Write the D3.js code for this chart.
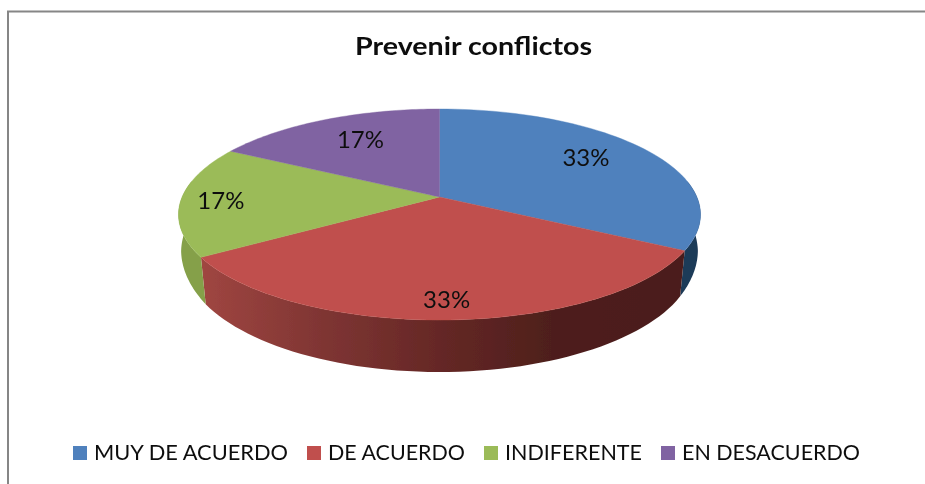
<!DOCTYPE html>
<html><head><meta charset="utf-8">
<script src="https://cdn.jsdelivr.net/npm/d3@7/dist/d3.min.js"></script>
<style>html,body{margin:0;padding:0;background:#fff;overflow:hidden}svg{display:block}text{font-family:Lato,"Open Sans",sans-serif;fill:#111}</style>
</head><body><svg id="c" width="925" height="484"></svg>
<script>
const chartTitle = "Prevenir conflictos";
const categories = ["MUY DE ACUERDO", "DE ACUERDO", "INDIFERENTE", "EN DESACUERDO"];
const values = [33, 33, 17, 17];
const percentLabels = ["33%", "33%", "17%", "17%"];
const topColors = ["#4f81bd", "#c0504d", "#9bbb59", "#8064a2"];
const sideColors = ["#1f3a58", "url(#redSide)", "#85a04a", "#6a5388"];
const legendTextWidths = [194, 137, 137, 178];

const svg = d3.select("#c");
const defs = svg.append("defs");
const grad = defs.append("linearGradient").attr("id", "redSide")
  .attr("gradientUnits", "userSpaceOnUse").attr("x1", 200).attr("x2", 690).attr("y1", 0).attr("y2", 0);
[[0, "#a04641"], [0.25, "#7f3533"], [0.5, "#642725"], [0.72, "#4e1f1c"], [1, "#4b1e1b"]]
  .forEach(s => grad.append("stop").attr("offset", s[0]).attr("stop-color", s[1]));
defs.append("filter").attr("id", "soft").append("feGaussianBlur").attr("stdDeviation", 0.45);

// frame
svg.append("path").attr("d", "M8,484V11.5H925").attr("fill", "none").attr("stroke", "#868686").attr("stroke-width", 2);

const root = svg.append("g").attr("filter", "url(#soft)");

// perspective projection of the disc
const cx = 439.5, cy = 197, k = 0.166, A = 257.4, B = 102.6;
function project(theta, r = 1) {
  const w = 1 + k * r * Math.cos(theta);
  return [cx + A * r * Math.sin(theta) / w, cy - B * r * Math.cos(theta) / w];
}
const depthAt = d3.scaleLinear().domain([213, 258, 320]).range([38, 47, 52]);
const shrinkAt = d3.scaleLinear().domain([213, 258]).range([0.99, 0.98]).clamp(true);
function lower(p) {
  return [cx + (p[0] - cx) * shrinkAt(p[1]), p[1] + depthAt(p[1])];
}
const line = d3.line();
const arcPts = (a, b) => d3.range(0, 61).map(i => project(a + (b - a) * i / 60));

const pie = d3.pie().sort(null)(values);
const colorScale = d3.scaleOrdinal().domain(categories).range(topColors);
const sideScale = d3.scaleOrdinal().domain(categories).range(sideColors);

// walls (the top face is painted over whatever part is hidden)
const nearFrom = Math.PI * 0.45, nearTo = Math.PI * 1.55;
root.selectAll("path.wall").data(pie).join("path").attr("class", "wall")
  .attr("d", d => {
    const a = Math.max(d.startAngle, nearFrom), b = Math.min(d.endAngle, nearTo);
    if (b <= a) return null;
    const t = arcPts(a, b);
    return line(t.concat(t.slice().reverse().map(lower))) + "Z";
  })
  .attr("fill", (d, i) => sideScale(categories[i]));

// top face
root.selectAll("path.top").data(pie).join("path").attr("class", "top")
  .attr("d", d => line([[cx, cy]].concat(arcPts(d.startAngle, d.endAngle))) + "Z")
  .attr("fill", (d, i) => colorScale(categories[i]))
  .attr("stroke", (d, i) => colorScale(categories[i])).attr("stroke-width", 0.4);

// percent labels
const labelR = [0.68, 0.86, 0.85, 0.66], labelShift = [[4, -5], [-1, 0], [1, 1], [0, -4]];
root.selectAll("text.pct").data(pie).join("text").attr("class", "pct")
  .attr("transform", (d, i) => {
    const p = project((d.startAngle + d.endAngle) / 2, labelR[i]);
    return `translate(${p[0] + labelShift[i][0]},${p[1] + labelShift[i][1] + 8})`;
  })
  .attr("text-anchor", "middle").attr("font-size", 23)
  .attr("textLength", 47).attr("lengthAdjust", "spacingAndGlyphs")
  .text((d, i) => percentLabels[i]);

// title
root.append("text").attr("x", 473.5).attr("y", 55).attr("text-anchor", "middle")
  .attr("font-size", 24).attr("font-weight", 700)
  .attr("textLength", 237).attr("lengthAdjust", "spacingAndGlyphs").text(chartTitle);

// legend: each entry follows the previous one
const legendStarts = legendTextWidths.reduce((acc, w) => acc.concat(acc[acc.length - 1] + 21 + w + 19), [73]);
const item = root.selectAll("g.leg").data(categories).join("g").attr("class", "leg")
  .attr("transform", (d, i) => `translate(${legendStarts[i]},0)`);
item.append("rect").attr("y", 446).attr("width", 14).attr("height", 14).attr("fill", d => colorScale(d));
item.append("text").attr("x", 21).attr("y", 460).attr("font-size", 22)
  .attr("textLength", (d, i) => legendTextWidths[i]).attr("lengthAdjust", "spacingAndGlyphs").text(d => d);
</script></body></html>
